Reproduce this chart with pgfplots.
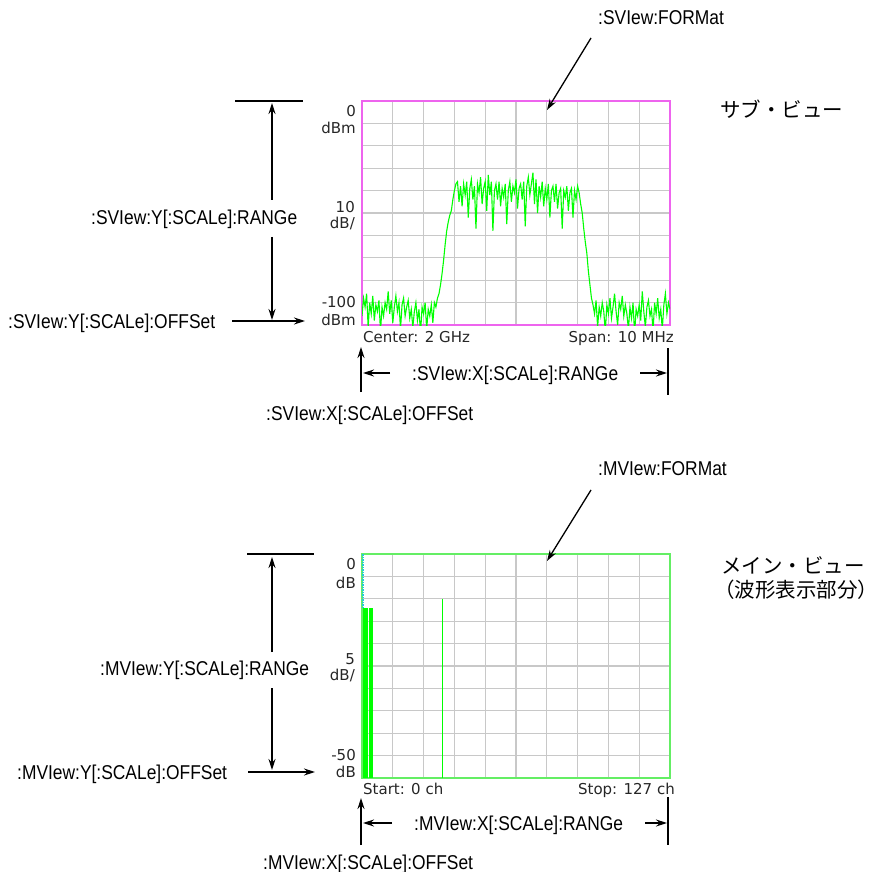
\documentclass[border=0pt]{standalone}
\usepackage{pgfplots}
\pgfplotsset{compat=1.18}
\usepackage{fontspec}
\usetikzlibrary{arrows.meta}
\setmainfont{Liberation Sans}
\newfontfamily\annot{Liberation Sans}[FakeStretch=0.87]
\newfontfamily\scr{DejaVu Sans}
\newfontfamily\cjk{Noto Sans CJK JP}
\definecolor{gridgray}{RGB}{200,200,200}
\definecolor{magframe}{RGB}{238,100,238}
\definecolor{grnframe}{RGB}{100,238,100}
\definecolor{trace}{RGB}{0,255,0}
\definecolor{cyanline}{RGB}{40,200,220}
\newcommand{\AN}{\annot\fontsize{20}{24}\selectfont}
\newcommand{\SC}{\scr\fontsize{15}{17}\selectfont\color{black!85}}
\newcommand{\JP}{\cjk\fontsize{20.5}{24}\selectfont}
\begin{document}
\begin{tikzpicture}[x=1pt,y=-1pt,
  arr/.style={line width=1.3pt,-{Stealth[length=11pt,width=7pt]}},
  lbl/.style={inner sep=0pt,anchor=base west}]
\useasboundingbox (0,0) rectangle (879,872);
% ---------------- Sub view (spectrum)
\begin{axis}[at={(362pt,-325pt)}, anchor=south west, scale only axis,
  width=308pt, height=224pt,
  xmin=-5, xmax=5, ymin=-100, ymax=0,
  xtick={-5,-4,...,5}, ytick={-100,-90,...,0},
  xticklabels={}, yticklabels={}, major tick length=0pt,
  grid=major, major grid style={color=gridgray, line width=1.2pt},
  axis line style={color=magframe, line width=2pt}]
\addplot[trace, line width=1.1pt, mark=none] table {
x y
-5.00 -96
-4.95 -88
-4.90 -92
-4.85 -86
-4.80 -101
-4.75 -90
-4.70 -95
-4.65 -87
-4.60 -98
-4.55 -91
-4.50 -94
-4.45 -89
-4.40 -103
-4.35 -92
-4.30 -96
-4.25 -90
-4.20 -93
-4.15 -85
-4.10 -95
-4.05 -89
-4.00 -99
-3.95 -92
-3.90 -87
-3.85 -94
-3.80 -90
-3.75 -102
-3.70 -91
-3.65 -88
-3.60 -96
-3.55 -92
-3.50 -89
-3.45 -97
-3.40 -93
-3.35 -101
-3.30 -94
-3.25 -90
-3.20 -98
-3.15 -93
-3.10 -104
-3.05 -92
-3.00 -95
-2.95 -90
-2.90 -102
-2.85 -93
-2.80 -96
-2.75 -91
-2.70 -99
-2.65 -90
-2.60 -92
-2.55 -88
-2.50 -86
-2.45 -82
-2.40 -77
-2.35 -71
-2.30 -64
-2.25 -58
-2.20 -54
-2.15 -51
-2.10 -49
-2.05 -44
-2.00 -40
-1.95 -37
-1.90 -36
-1.85 -45
-1.80 -38
-1.75 -47
-1.70 -37
-1.65 -42
-1.60 -36
-1.55 -52
-1.50 -39
-1.45 -35
-1.40 -44
-1.35 -38
-1.30 -57
-1.25 -37
-1.20 -41
-1.15 -34
-1.10 -46
-1.05 -39
-1.00 -36
-0.95 -49
-0.90 -33
-0.85 -42
-0.80 -36
-0.75 -58
-0.70 -40
-0.65 -37
-0.60 -44
-0.55 -36
-0.50 -47
-0.45 -39
-0.40 -43
-0.35 -37
-0.30 -55
-0.25 -40
-0.20 -36
-0.15 -45
-0.10 -38
-0.05 -41
0.00 -35
0.05 -48
0.10 -39
0.15 -37
0.20 -44
0.25 -36
0.30 -56
0.35 -38
0.40 -34
0.45 -42
0.50 -37
0.55 -32
0.60 -46
0.65 -35
0.70 -50
0.75 -38
0.80 -43
0.85 -36
0.90 -47
0.95 -39
1.00 -44
1.05 -37
1.10 -52
1.15 -40
1.20 -38
1.25 -45
1.30 -37
1.35 -48
1.40 -41
1.45 -39
1.50 -57
1.55 -40
1.60 -43
1.65 -38
1.70 -49
1.75 -41
1.80 -39
1.85 -52
1.90 -40
1.95 -44
2.00 -38
2.05 -41
2.10 -46
2.15 -50
2.20 -57
2.25 -63
2.30 -68
2.35 -76
2.40 -82
2.45 -88
2.50 -91
2.55 -95
2.60 -89
2.65 -101
2.70 -92
2.75 -96
2.80 -90
2.85 -94
2.90 -103
2.95 -91
3.00 -95
3.05 -88
3.10 -97
3.15 -92
3.20 -86
3.25 -94
3.30 -100
3.35 -90
3.40 -93
3.45 -87
3.50 -96
3.55 -91
3.60 -95
3.65 -102
3.70 -92
3.75 -97
3.80 -90
3.85 -104
3.90 -93
3.95 -96
4.00 -91
4.05 -98
4.10 -85
4.15 -94
4.20 -101
4.25 -92
4.30 -89
4.35 -96
4.40 -93
4.45 -103
4.50 -90
4.55 -95
4.60 -88
4.65 -97
4.70 -93
4.75 -102
4.80 -91
4.85 -86
4.90 -95
4.95 -90
5.00 -93
};
\end{axis}
% ---------------- Main view
\begin{axis}[at={(362pt,-778pt)}, anchor=south west, scale only axis,
  width=308pt, height=224pt,
  xmin=0, xmax=127, ymin=-50, ymax=0,
  xtick={0,12.7,...,127.1}, ytick={-50,-45,...,0},
  xticklabels={}, yticklabels={}, major tick length=0pt,
  grid=major, major grid style={color=gridgray, line width=1.2pt},
  axis line style={color=grnframe, line width=2pt}]
\addplot[draw=none, fill=trace] coordinates {(0.3,-50) (0.3,-12) (2.35,-12) (2.35,-50)} -- cycle;
\addplot[draw=none, fill=trace] coordinates {(3.0,-50) (3.0,-12) (4.4,-12) (4.4,-50)} -- cycle;
\addplot[trace, line width=1.5pt] coordinates {(33.1,-50) (33.1,-10)};
\addplot[cyanline, line width=1.5pt, densely dotted] coordinates {(0.4,0) (0.4,-12)};
\end{axis}
% ---------------- axis texts
\begin{scope}[every node/.style={inner sep=0pt}]
\node[anchor=base east] at (356,117) {\SC 0};
\node[anchor=base east] at (356,134) {\SC dBm};
\node[anchor=base east] at (355,213) {\SC 10};
\node[anchor=base east] at (355,229) {\SC dB/};
\node[anchor=base east] at (356,307) {\SC -100};
\node[anchor=base east] at (356,325) {\SC dBm};
\node[anchor=base west] at (363,342) {\SC Center: 2 GHz};
\node[anchor=base east] at (674,342) {\SC Span: 10 MHz};
\node[anchor=base east] at (356,569.5) {\SC 0};
\node[anchor=base east] at (356,588) {\SC dB};
\node[anchor=base east] at (355,664) {\SC 5};
\node[anchor=base east] at (355,680) {\SC dB/};
\node[anchor=base east] at (356,760) {\SC -50};
\node[anchor=base east] at (356,777.5) {\SC dB};
\node[anchor=base west] at (363,794) {\SC Start: 0 ch};
\node[anchor=base east] at (675,794) {\SC Stop: 127 ch};
\end{scope}
% ---------------- annotations (sub view)
\node[lbl] at (598,25) {\AN :SVIew:FORMat};
\draw[arr] (591,38) -- (547,110);
\node[lbl] at (91,225) {\AN :SVIew:Y[:SCALe]:RANGe};
\draw[line width=1.2pt] (235,101) -- (303,101);
\draw[arr] (272,200) -- (272,103);
\draw[arr] (272,237) -- (272,320);
\node[lbl] at (8,328) {\AN :SVIew:Y[:SCALe]:OFFSet};
\draw[arr] (232,321) -- (305,321);
\draw[arr] (361,392) -- (361,347);
\draw[arr] (390,373) -- (363,373);
\node[lbl] at (412,380) {\AN :SVIew:X[:SCALe]:RANGe};
\draw[arr] (640,373) -- (667,373);
\draw[line width=1.2pt] (668,348) -- (668,395);
\node[lbl] at (266,420) {\AN :SVIew:X[:SCALe]:OFFSet};
\node[lbl] at (720,118) {\JP サブ・ビュー};
% ---------------- annotations (main view)
\node[lbl] at (598,475) {\AN :MVIew:FORMat};
\draw[arr] (591,490) -- (547,561);
\node[lbl] at (100,675) {\AN :MVIew:Y[:SCALe]:RANGe};
\draw[line width=1.2pt] (247,554) -- (314,554);
\draw[arr] (272,652) -- (272,557);
\draw[arr] (272,688) -- (272,770);
\node[lbl] at (17,779) {\AN :MVIew:Y[:SCALe]:OFFSet};
\draw[arr] (248,772) -- (315,772);
\draw[arr] (361,845) -- (361,798);
\draw[arr] (392,823) -- (363,823);
\node[lbl] at (414,830) {\AN :MVIew:X[:SCALe]:RANGe};
\draw[arr] (645,823) -- (667,823);
\draw[line width=1.2pt] (668,797) -- (668,845);
\node[lbl] at (263,869) {\AN :MVIew:X[:SCALe]:OFFSet};
\node[lbl] at (721,573) {\JP メイン・ビュー};
\node[lbl] at (714,597) {\JP （波形表示部分）};
\end{tikzpicture}
\end{document}
